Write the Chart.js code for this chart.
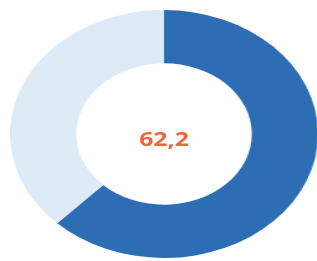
<!DOCTYPE html>
<html>
<head>
<meta charset="utf-8">
<script src="https://cdn.jsdelivr.net/npm/chart.js@4/dist/chart.umd.min.js"></script>
<style>
  html, body { margin: 0; padding: 0; background: #fff; width: 317px; height: 261px; overflow: hidden; }
  /* the original is a stretched circle, so the whole chart is scaled horizontally */
  #wrap { position: absolute; left: 40px; top: 10px; width: 248px; height: 248px;
          transform: scaleX(1.242); transform-origin: 124px 124px; }
  #center { position: absolute; left: 0; width: 248px; top: 117px; text-align: center;
            font: bold 20px "Open Sans", sans-serif; color: #F0653A; line-height: 24px; }
</style>
</head>
<body>
<div id="wrap">
  <canvas id="chart" width="248" height="248"></canvas>
  <div id="center"></div>
</div>
<script>
// Data
const labels = ['Valeur', 'Reste'];
const values = [62.2, 37.8];
const colors = ['#2C6DB4', '#DDEBF7'];
const centerLabel = '62,2';

document.getElementById('center').textContent = centerLabel;

new Chart(document.getElementById('chart'), {
    type: 'doughnut',
    data: {
        labels: labels,
        datasets: [{
            data: values,
            backgroundColor: colors,
            borderWidth: 0
        }]
    },
    options: {
        responsive: false,
        animation: false,
        cutout: '57%',
        events: [],
        plugins: {
            legend: { display: false },
            tooltip: { enabled: false }
        }
    }
});
</script>
</body>
</html>
